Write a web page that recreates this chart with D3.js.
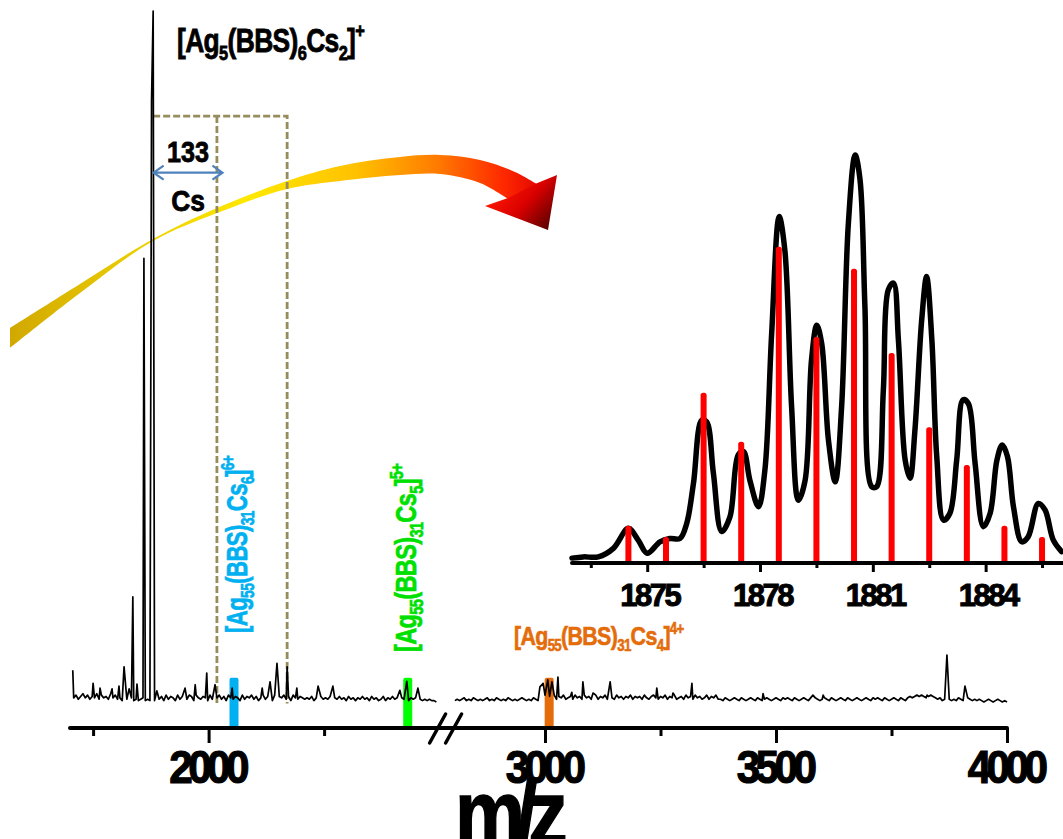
<!DOCTYPE html>
<html lang="en">
<head>
<meta charset="UTF-8">
<title>Ag55 cluster mass spectrum</title>
<script src="https://d3js.org/d3.v7.min.js"></script>
<style>
    body { margin: 0; background: #fff; }
    svg { display: block; }
    text { font-family: "Liberation Sans", Arial, sans-serif; font-weight: bold; }
</style>
</head>
<body>
<svg id="chart" width="1063" height="839"></svg>
<script>
// ---- main spectrum: picked peaks [m/z, relative intensity %]
const leftPeaks = [
    [1706, 4.6], [1750, 2.7], [1765, 2.0], [1791, 1.9], [1806, 2.3], [1817, 5.1],
    [1828, 1.9], [1836, 15.2], [1845, 2.6], [1860, 64.2], [1876.5, 87], [1880, 100],
    [1888, 1.6], [1949, 2.0], [1971, 2.5], [1996, 4.2], [2014, 2.5], [2051, 2.0],
    [2116, 2.0], [2133, 2.9], [2148, 5.6], [2170, 5.1], [2191, 2.0], [2237, 2.3],
    [2269, 2.3], [2414, 1.7], [2429, 3.0], [2453, 2.0]
];
const rightPeaks = [
    [2989, 2.2], [2996, 2.7], [3006, 3.2], [3015, 2.9], [3028, 3.6], [3058, 1.4],
    [3082, 2.9], [3104, 1.3], [3141, 2.9], [3242, 2.0], [3277, 1.3], [3318, 2.7],
    [3472, 1.2], [3580, 1.0], [3602, 1.0], [3827, 1.0], [3870, 6.8], [3909, 2.3]
];
// baseline noise, one digit per 5 m/z (unit = 0.2 %)
const noiseStep = 5;
const leftNoiseStart = 1708, leftEnd = 2494;
const rightNoiseStart = 2805, rightEnd = 4000;
const leftNoise =
    "3524635243625342635" +
    "23122131212312121" +
    "32415243152432541532431524352415324315243524135243152435241532432" +
    "324131423241324231423132423142312413242313241323121212110";
const rightNoise =
    "1212312132121231213212132121232121321" +
    "435243524352342534253423524352432534243524342532453243524352342534253423524352" +
    "213212321321232132123212321323213212321323212321321232132123212321323213212321321" +
    "34345454345432312321213212321212101210121010121";

// marked cluster positions (m/z)
const markerMz = [2055, 2431, 3009];

// ---- inset: experimental profile around [Ag5(BBS)6Cs2]+
const insetMz = [1873.0, 1873.3, 1873.7, 1874.1, 1874.5, 1874.76, 1875.0, 1875.34, 1875.6, 1875.87,
    1876.05, 1876.23, 1876.45, 1876.58, 1876.76, 1876.98, 1877.2, 1877.42, 1877.56, 1877.73,
    1877.96, 1878.13, 1878.31, 1878.51, 1878.66, 1878.84, 1879.02, 1879.2, 1879.37, 1879.51,
    1879.64, 1879.82, 1880.0, 1880.17, 1880.35, 1880.53, 1880.66, 1880.79, 1880.97, 1881.1,
    1881.28, 1881.41, 1881.55, 1881.68, 1881.86, 1881.99, 1882.12, 1882.3, 1882.43, 1882.57,
    1882.7, 1882.88, 1883.05, 1883.23, 1883.4, 1883.54, 1883.72, 1883.94, 1884.12, 1884.3,
    1884.44, 1884.58, 1884.74, 1884.96, 1885.13, 1885.4, 1885.58, 1885.8, 1886.02];
const insetInt = [1.2, 1.5, 1.5, 3.6, 8.5, 5.6, 2.4, 5.2, 6.0, 6.0,
    9.7, 19.5, 35, 34.6, 22, 7.7, 11.3, 26.5, 27.3, 20.3,
    13.8, 22.8, 56.3, 84.9, 76.7, 38.3, 15.4, 20.3, 49.8, 58.3,
    53.8, 30.1, 19.9, 38.3, 83.3, 100, 93.9, 62.8, 18.7, 18.7,
    42.4, 66.9, 68.6, 54.7, 25.2, 20.8, 32.6, 59.6, 70.2, 54.7,
    26.1, 10.5, 12.2, 25.2, 40, 39.1, 24.4, 8.9, 12.2, 25.2,
    28.9, 26.1, 13.8, 5.2, 6.4, 14.6, 13, 5.6, 2.8];
// simulated isotope pattern
const isoMz = [1874.5, 1875.5, 1876.5, 1877.5, 1878.5, 1879.5, 1880.5, 1881.5, 1882.5, 1883.5, 1884.5, 1885.5];
const isoInt = [9.1, 6.4, 41.7, 29.7, 77.5, 55.4, 72.1, 51.5, 33.3, 24.0, 9.1, 6.4];

// ticks
const leftMajor = [2000], leftMinor = [1750, 2250];
const rightMajor = [3000, 3500, 4000], rightMinor = [3250, 3750];
const insetMajor = [1875, 1878, 1881, 1884];
const insetMinor = [1873.5, 1876.5, 1879.5, 1882.5, 1885.5];

// ---- decoration shape of the big curved arrow (pixels)
const ribbonTop = [[10, 328], [80, 284], [153, 239], [217, 208], [287, 181], [340, 166],
    [400, 157], [440, 155], [480, 160], [515, 172], [540, 186]];
const ribbonBottom = [[508, 199], [480, 183], [440, 174], [400, 175], [340, 181],
    [287, 189], [217, 213], [153, 241], [80, 293], [10, 348]];
const arrowHead = [[535, 184], [557, 175], [548, 230], [485, 206], [508, 198]];

const markerColors = ["#00b0f0", "#00ff00", "#e46c0a"];
const dashColor = "#968c5c";

const svg = d3.select("#chart");
const axisY = 728;

// scales
const xL = d3.scaleLinear().domain([1700, 2500]).range([70, 439.6]);
const xR = d3.scaleLinear().domain([2800, 4000]).range([452.6, 1007]);
const y = d3.scaleLinear().domain([0, 100]).range([702, 11]);
const xI = d3.scaleLinear().domain([1873, 1886.1]).range([572, 1064.6]);
const yI = d3.scaleLinear().domain([0, 100]).range([563, 155]);

// gradients
const defs = svg.append("defs");
const g1 = defs.append("linearGradient").attr("id", "ribbon")
    .attr("gradientUnits", "userSpaceOnUse")
    .attr("x1", 10).attr("y1", 0).attr("x2", 545).attr("y2", 0);
[[0, "#d2a800"], [0.25, "#ecd000"], [0.45, "#ffe800"], [0.65, "#ffc000"],
 [0.8, "#ff7a00"], [0.92, "#ff2a00"], [1, "#e00000"]]
    .forEach(([o, c]) => g1.append("stop").attr("offset", o).attr("stop-color", c));
const g2 = defs.append("linearGradient").attr("id", "head")
    .attr("gradientUnits", "userSpaceOnUse")
    .attr("x1", 500).attr("y1", 185).attr("x2", 552).attr("y2", 232);
[[0, "#ff1800"], [0.45, "#d80000"], [1, "#4a0000"]]
    .forEach(([o, c]) => g2.append("stop").attr("offset", o).attr("stop-color", c));

// curved arrow
const edge = d3.line().curve(d3.curveCatmullRom);
svg.append("path")
    .attr("d", edge(ribbonTop) + edge(ribbonBottom).replace("M", "L") + "Z")
    .attr("fill", "url(#ribbon)");
svg.append("path")
    .attr("d", d3.line()(arrowHead) + "Z")
    .attr("fill", "url(#head)");

// dashed box around the Cs shift
const boxTop = y(84.8), boxBottom = y(-0.2);
svg.append("path")
    .attr("d", `M${xL(1880)},${boxTop}H${xL(2170)}V${boxBottom}M${xL(2018)},${boxTop}V${boxBottom}`)
    .attr("fill", "none")
    .attr("stroke", dashColor)
    .attr("stroke-width", 2.8)
    .attr("stroke-dasharray", "7,3");

// marker bars
const markerX = m => (m < 2600 ? xL(m) : xR(m));
svg.selectAll(".marker").data(markerMz).join("rect")
    .attr("class", "marker")
    .attr("x", d => markerX(d) - 4.5)
    .attr("y", y(3.5))
    .attr("width", 9)
    .attr("height", axisY - y(3.5))
    .attr("rx", 2)
    .attr("fill", (d, i) => markerColors[i]);

// spectrum traces
function buildTrace(peaks, noise, start, end) {
    const pts = peaks.map(p => [p[0], p[1]]);
    noise.split("").forEach((d, i) => {
        const m = start + i * noiseStep;
        if (m > end) return;
        if (peaks.every(p => Math.abs(p[0] - m) > 1.5)) pts.push([m, +d * 0.2]);
    });
    return pts.sort((a, b) => a[0] - b[0]);
}
const leftTrace = buildTrace(leftPeaks, leftNoise, leftNoiseStart, leftEnd);
const rightTrace = buildTrace(rightPeaks, rightNoise, rightNoiseStart, rightEnd);

svg.append("path").datum(leftTrace)
    .attr("d", d3.line().x(d => xL(d[0])).y(d => y(d[1])))
    .attr("fill", "none").attr("stroke", "#000").attr("stroke-width", 1.7)
    .attr("stroke-linejoin", "round");
svg.append("path").datum(rightTrace)
    .attr("d", d3.line().x(d => xR(d[0])).y(d => y(d[1])))
    .attr("fill", "none").attr("stroke", "#000").attr("stroke-width", 1.7)
    .attr("stroke-linejoin", "round");

// main axis
svg.append("line")
    .attr("x1", xL(1700)).attr("x2", xR(4000))
    .attr("y1", axisY).attr("y2", axisY)
    .attr("stroke", "#000").attr("stroke-width", 4).attr("stroke-linecap", "round");

function drawTicks(scale, major, minor) {
    const gMaj = svg.append("g").attr("transform", `translate(0,${axisY})`)
        .call(d3.axisBottom(scale).tickValues(major).tickSize(15).tickPadding(7)
            .tickFormat(d3.format("d")));
    const gMin = svg.append("g").attr("transform", `translate(0,${axisY})`)
        .call(d3.axisBottom(scale).tickValues(minor).tickSize(8).tickFormat(""));
    [gMaj, gMin].forEach(g => {
        g.select(".domain").remove();
        g.selectAll(".tick line").attr("stroke", "#000").attr("stroke-width", 3);
    });
    gMaj.selectAll(".tick text")
        .attr("font-size", 46)
        .attr("fill", "#000")
        .attr("stroke", "#000").attr("stroke-width", 1.2)
        .attr("letter-spacing", -5)
        .attr("transform", "translate(-2,0) scale(0.92,1)");
}
drawTicks(xL, leftMajor, leftMinor);
drawTicks(xR, rightMajor, rightMinor);

// axis break
const breakX = (xL.range()[1] + xR.range()[0]) / 2;
[-8.5, 7.5].forEach(o => {
    svg.append("line")
        .attr("x1", breakX + o - 8).attr("y1", axisY + 15)
        .attr("x2", breakX + o + 8).attr("y2", axisY - 14)
        .attr("stroke", "#000").attr("stroke-width", 3.5).attr("stroke-linecap", "round");
});

function fitWidth(t, w) {
    const bw = t.node().getBBox().width;
    t.attr("transform", `scale(${w / bw},1)`);
}

// m/z title
const mzG = svg.append("g").attr("transform", "translate(455,845)");
const mzT = mzG.append("text").attr("font-size", 92).attr("fill", "#000")
    .attr("stroke", "#000").attr("stroke-width", 1.5)
    .attr("letter-spacing", -11)
    .text("m/z");
fitWidth(mzT, 110);

// chemical formula labels
function formula(parent, parts, size, color, weight) {
    const t = parent.append("text").attr("font-size", size).attr("fill", color)
        .attr("stroke", color).attr("stroke-width", weight)
        .attr("letter-spacing", -0.8);
    let shift = 0;
    parts.forEach(([s, k]) => {
        const target = k === "sub" ? 0.24 * size : k === "sup" ? -0.42 * size : 0;
        t.append("tspan")
            .attr("dy", target - shift)
            .attr("font-size", k === "n" ? size : size * 0.62)
            .text(s);
        shift = target;
    });
    return t;
}
const clusterParts = n => [["[Ag", "n"], ["55", "sub"], ["(BBS)", "n"], ["31", "sub"],
    ["Cs", "n"], [String(n), "sub"], ["]", "n"], [n + "+", "sup"]];

// top label
const topG = svg.append("g").attr("transform", "translate(177,52)");
fitWidth(formula(topG, [["[Ag", "n"], ["5", "sub"], ["(BBS)", "n"], ["6", "sub"], ["Cs", "n"],
    ["2", "sub"], ["]", "n"], ["+", "sup"]], 33, "#000", 0.8), 188);

// rotated labels (blue 6+, green 5+)
const blueG = svg.append("g").attr("transform", `translate(${markerX(markerMz[0]) + 13},633) rotate(-90)`);
fitWidth(formula(blueG, clusterParts(6), 30, markerColors[0], 0.7), 178);
const greenG = svg.append("g").attr("transform", `translate(${markerX(markerMz[1]) + 8},652) rotate(-90)`);
fitWidth(formula(greenG, clusterParts(5), 30, "#00e000", 0.7), 189);
// orange label (4+)
const orangeG = svg.append("g").attr("transform", "translate(514,645)");
fitWidth(formula(orangeG, clusterParts(4), 26, markerColors[2], 0.6), 170);

// 133 Cs double arrow
const arrY = y(76.6), aL = xL(1881), aR = xL(2030);
svg.append("path")
    .attr("d", `M${aL},${arrY}H${aR}M${aL + 10},${arrY - 7}L${aL},${arrY}L${aL + 10},${arrY + 7}` +
        `M${aR - 10},${arrY - 7}L${aR},${arrY}L${aR - 10},${arrY + 7}`)
    .attr("fill", "none").attr("stroke", "#4f81bd").attr("stroke-width", 2.2);
svg.append("text").attr("x", (aL + aR) / 2).attr("y", 162).attr("text-anchor", "middle")
    .attr("font-size", 30).attr("fill", "#000").attr("stroke", "#000").attr("stroke-width", 0.8)
    .attr("transform", `translate(${(aL + aR) / 2 * 0.16},0) scale(0.84,1)`).text("133");
svg.append("text").attr("x", (aL + aR) / 2).attr("y", 211).attr("text-anchor", "middle")
    .attr("font-size", 30).attr("fill", "#000").attr("stroke", "#000").attr("stroke-width", 0.8)
    .attr("transform", `translate(${(aL + aR) / 2 * 0.12},0) scale(0.88,1)`).text("Cs");

// ---- inset
const inset = svg.append("g");
inset.append("path").datum(insetMz.map((m, i) => [m, insetInt[i]]))
    .attr("d", d3.line().curve(d3.curveCatmullRom).x(d => xI(d[0])).y(d => yI(d[1])))
    .attr("fill", "none").attr("stroke", "#000").attr("stroke-width", 5.5)
    .attr("stroke-linejoin", "round").attr("stroke-linecap", "round");
inset.selectAll(".iso").data(isoMz).join("rect")
    .attr("class", "iso")
    .attr("x", d => xI(d) - 3)
    .attr("y", (d, i) => yI(isoInt[i]))
    .attr("width", 6)
    .attr("height", (d, i) => yI(0) - yI(isoInt[i]))
    .attr("rx", 2.5)
    .attr("fill", "#ff0000");

inset.append("line")
    .attr("x1", xI.range()[0]).attr("x2", 1063)
    .attr("y1", yI(0)).attr("y2", yI(0))
    .attr("stroke", "#000").attr("stroke-width", 4).attr("stroke-linecap", "round");
const iMaj = inset.append("g").attr("transform", `translate(0,${yI(0)})`)
    .call(d3.axisBottom(xI).tickValues(insetMajor).tickSize(9).tickPadding(12)
        .tickFormat(d3.format("d")));
const iMin = inset.append("g").attr("transform", `translate(0,${yI(0)})`)
    .call(d3.axisBottom(xI).tickValues(insetMinor).tickSize(5).tickFormat(""));
[iMaj, iMin].forEach(g => {
    g.select(".domain").remove();
    g.selectAll(".tick line").attr("stroke", "#000").attr("stroke-width", 3);
});
iMaj.selectAll(".tick text")
    .attr("font-size", 31).attr("fill", "#000")
    .attr("stroke", "#000").attr("stroke-width", 1)
    .attr("letter-spacing", -2.5)
    .attr("transform", "translate(2,0)");
</script>
</body>
</html>
